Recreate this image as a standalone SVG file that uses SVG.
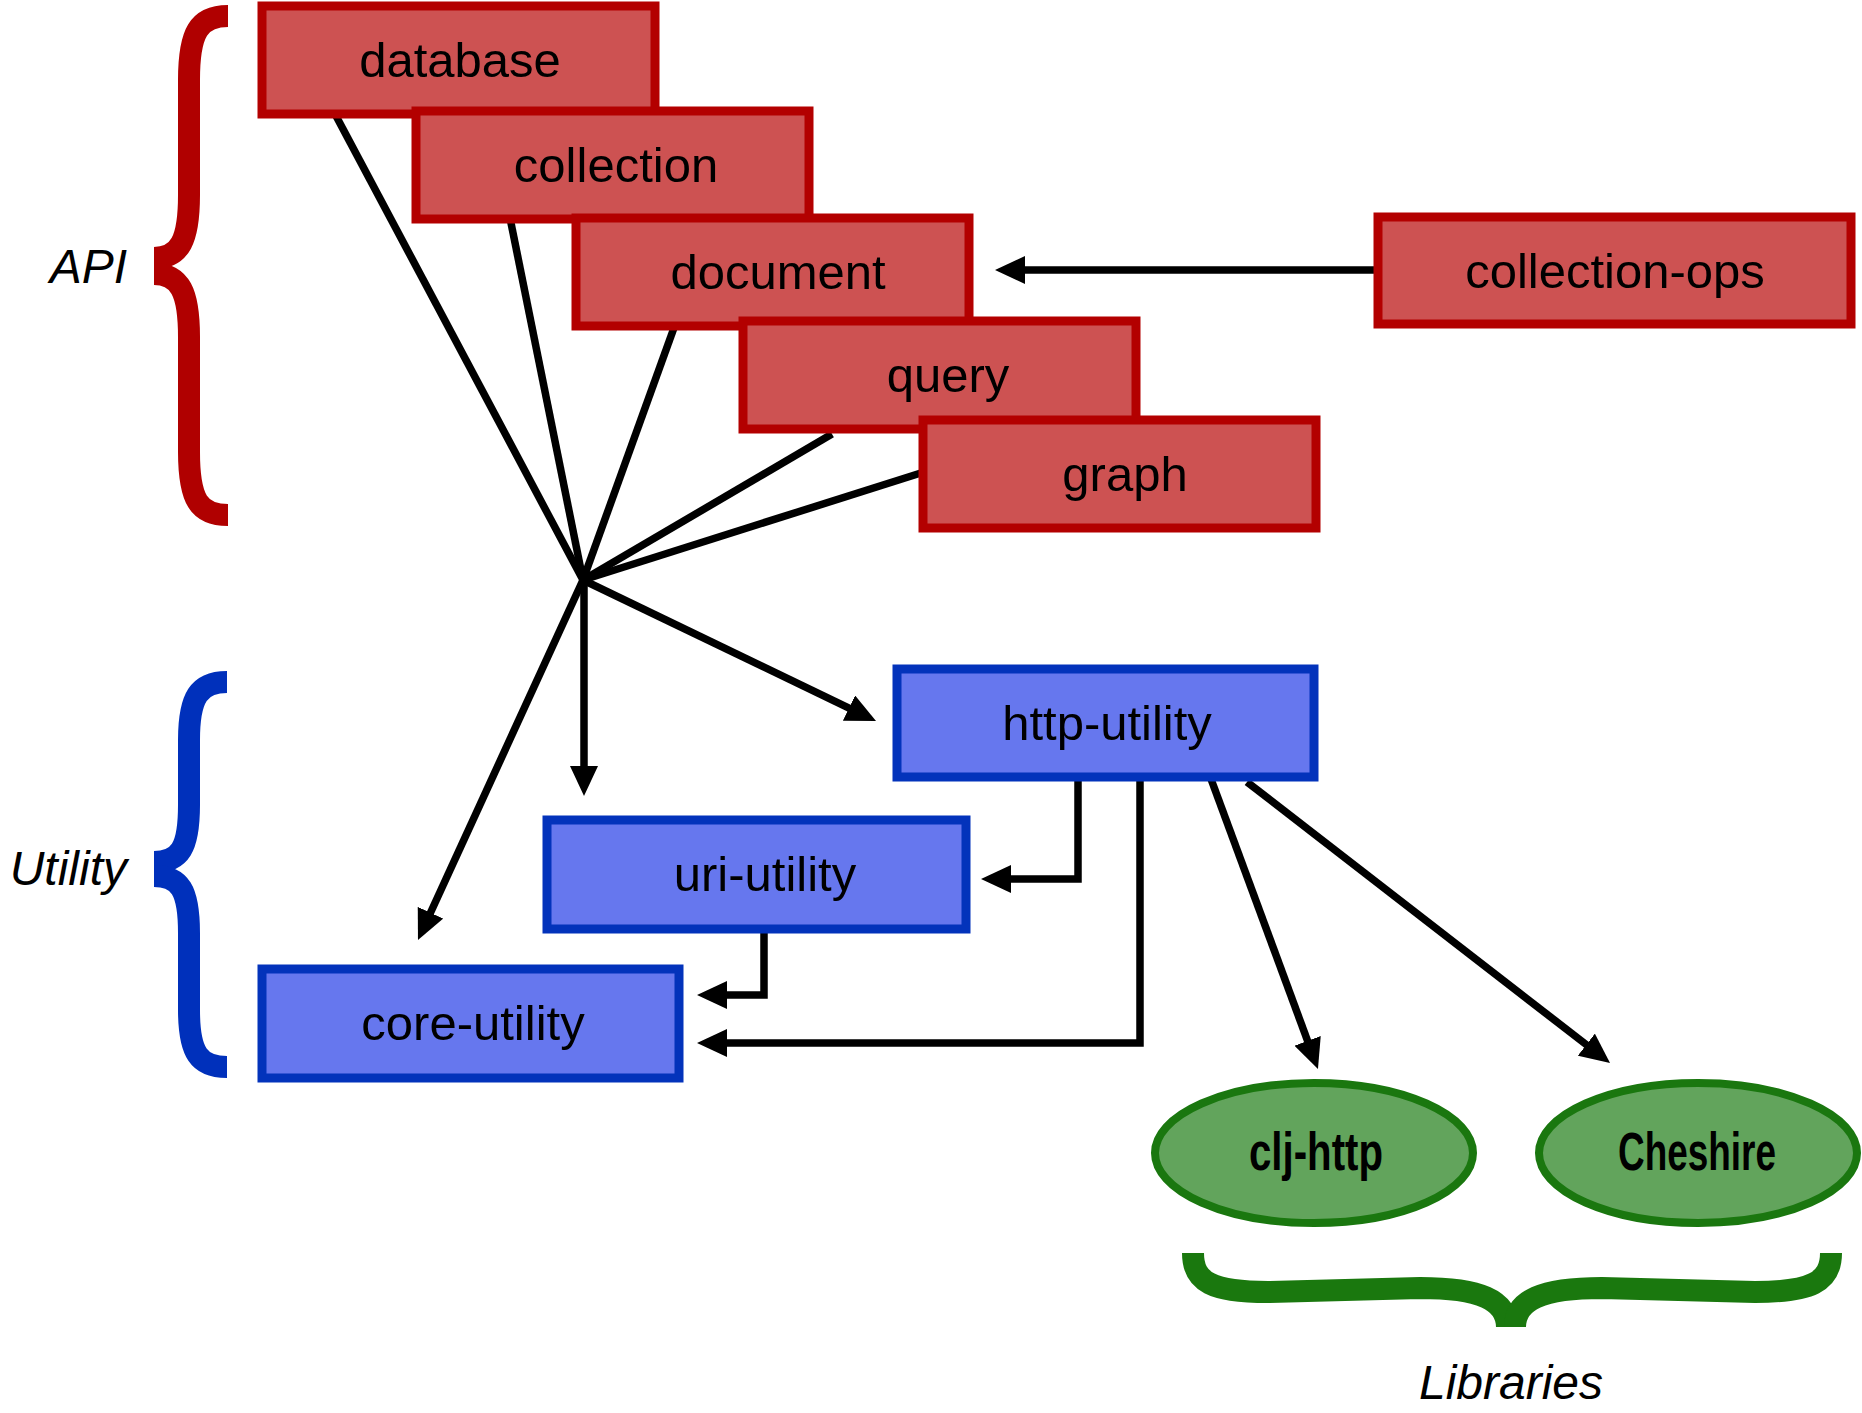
<svg xmlns="http://www.w3.org/2000/svg" width="1862" height="1413" viewBox="0 0 1862 1413">
<style>
.lbl{font-family:"Liberation Sans",Arial,sans-serif;font-size:49px;fill:#000;text-anchor:middle}
.ital{font-family:"Liberation Sans",Arial,sans-serif;font-size:48px;font-style:italic;fill:#000}
.lib{font-family:"Liberation Sans Narrow","Liberation Sans",Arial,sans-serif;font-size:54px;font-weight:bold;fill:#000;text-anchor:middle}
.red{fill:#cd5252;stroke:#b30000;stroke-width:9}
.blue{fill:#6677ee;stroke:#0333bb;stroke-width:9}
.green{fill:#62a45c;stroke:#1a770f;stroke-width:8}
.edge{fill:none;stroke:#000;stroke-width:7.5}
.arr{marker-end:url(#ah)}
.brace{fill:none;stroke-width:22;stroke-linecap:butt}
</style>
<defs>
<marker id="ah" viewBox="0 0 30 28" refX="11" refY="14" markerWidth="30" markerHeight="28" markerUnits="userSpaceOnUse" orient="auto">
<path d="M0,0 L30,14 L0,28 z" fill="#000"/>
</marker>
</defs>

<g id="braces">
<path class="brace" stroke="#b00000" d="M228,16 C199,16 189,32 189,80 L189,195 C189,240 180,258 154,258"/>
<path class="brace" stroke="#b00000" d="M154,274 C180,274 189,292 189,337 L189,452 C189,500 199,515 228,515"/>
<path class="brace" stroke="#0030bb" d="M227,682 C199,682 189,697 189,740 L189,805 C189,848 180,862 154,862"/>
<path class="brace" stroke="#0030bb" d="M154,876 C180,876 189,890 189,933 L189,1010 C189,1053 199,1067 227,1067"/>
<path class="brace" stroke="#1a780e" d="M1193,1253 C1193,1282 1212,1292 1268,1292 L1420,1288 C1480,1288 1507,1300 1507,1327"/>
<path class="brace" stroke="#1a780e" d="M1515,1327 C1515,1300 1542,1288 1602,1288 L1755,1292 C1811,1292 1831,1282 1831,1253"/>
<text class="ital" x="127" y="283" text-anchor="end">API</text>
<text class="ital" x="127" y="885" text-anchor="end">Utility</text>
<text class="ital" x="1511" y="1399" text-anchor="middle">Libraries</text>
</g>

<g id="connectors">
<line class="edge" x1="335" y1="114" x2="583" y2="580"/>
<line class="edge" x1="510" y1="218" x2="583" y2="580"/>
<line class="edge" x1="675" y1="325" x2="583" y2="580"/>
<line class="edge" x1="832" y1="434" x2="583" y2="580"/>
<line class="edge" x1="924" y1="472" x2="583" y2="580"/>
<line class="edge arr" x1="584" y1="580" x2="584" y2="777"/>
<line class="edge arr" x1="583" y1="580" x2="425.9" y2="922.7"/>
<line class="edge arr" x1="583" y1="580" x2="858.9" y2="712.8"/>
<line class="edge arr" x1="1378" y1="270" x2="1014" y2="270"/>
<polyline class="edge arr" points="1078,777 1078,879 1000,879"/>
<polyline class="edge arr" points="1140,777 1140,1043 716,1043"/>
<polyline class="edge arr" points="764,929 764,995 716,995"/>
<line class="edge arr" x1="1211" y1="779" x2="1311.4" y2="1051.2"/>
<line class="edge arr" x1="1247" y1="782" x2="1595" y2="1051.4"/>
</g>

<g id="database"><rect class="red" x="262" y="6" width="393" height="108"/><text class="lbl" x="460" y="77">database</text></g>
<g id="collection"><rect class="red" x="416" y="111" width="393" height="108"/><text class="lbl" x="616" y="182">collection</text></g>
<g id="document"><rect class="red" x="576" y="218" width="393" height="108"/><text class="lbl" x="778" y="289">document</text></g>
<g id="query"><rect class="red" x="743" y="321" width="393" height="108"/><text class="lbl" x="948" y="392">query</text></g>
<g id="graph"><rect class="red" x="923" y="420" width="393" height="108"/><text class="lbl" x="1125" y="491">graph</text></g>
<g id="collection-ops"><rect class="red" x="1378" y="217" width="473" height="107"/><text class="lbl" x="1615" y="288">collection-ops</text></g>

<g id="http-utility"><rect class="blue" x="897" y="669" width="417" height="108"/><text class="lbl" x="1107" y="740">http-utility</text></g>
<g id="uri-utility"><rect class="blue" x="547" y="820" width="419" height="109"/><text class="lbl" x="765" y="891">uri-utility</text></g>
<g id="core-utility"><rect class="blue" x="262" y="969" width="417" height="109"/><text class="lbl" x="473" y="1040">core-utility</text></g>

<g id="clj-http"><ellipse class="green" cx="1314" cy="1153" rx="159" ry="70"/><text class="lib" x="1316" y="1170" textLength="134" lengthAdjust="spacingAndGlyphs">clj-http</text></g>
<g id="cheshire"><ellipse class="green" cx="1698" cy="1153" rx="159" ry="70"/><text class="lib" x="1697" y="1170" textLength="158" lengthAdjust="spacingAndGlyphs">Cheshire</text></g>
</svg>
